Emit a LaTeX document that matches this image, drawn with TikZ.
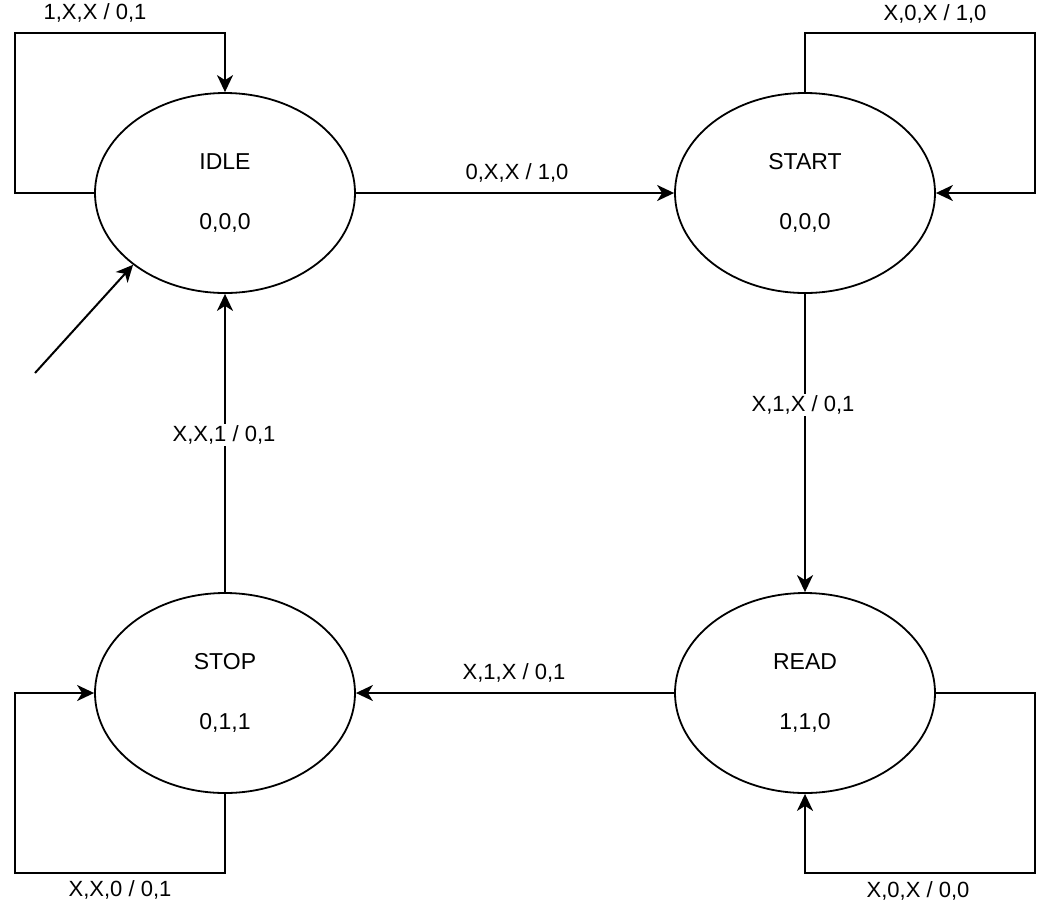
\documentclass[tikz,border=0pt]{standalone}
\usepackage{fontspec}
\setmainfont{Liberation Sans}
\usetikzlibrary{arrows.meta,shapes.geometric}

\tikzset{
  state/.style={ellipse, draw, line width=1.8pt, minimum width=260pt, minimum height=200pt,
    inner sep=0pt, align=center, font=\fontsize{23}{60}\selectfont},
  trans/.style={line width=2pt, -{Stealth[length=17pt,width=16pt,inset=5pt]}},
  lbl/.style={font=\fontsize{22}{26}\selectfont, inner sep=2pt},
}

\begin{document}
\begin{tikzpicture}[x=1pt,y=-1pt]
\useasboundingbox (0,0) rectangle (1052,906);

% states
\node [state] (idle) at (225,193) {IDLE\\0,0,0};
\node [state] (start) at (805,193) {START\\0,0,0};
\node [state] (stop) at (225,693) {STOP\\0,1,1};
\node [state] (read) at (805,693) {READ\\1,1,0};

\coordinate (init) at (35,373);

% transitions
\draw [trans] (init) -- (idle.218);
\draw [trans] (idle) -- (start);
\draw [trans] (start) -- (read);
\draw [trans] (read) -- (stop);
\draw [trans] (stop) -- (idle);

% self loops
\draw [trans] (idle.west) -| (15,33) -| (idle.north);
\draw [trans] (start.north) |- (1035,33) |- (start.east);
\draw [trans] (read.east) -| (1035,873) -| (read.south);
\draw [trans] (stop.south) |- (15,873) |- (stop.west);

% labels
\node [lbl] (lidle) at (95,13) {1,X,X / 0,1};
\node [lbl] (lstart) at (935,14) {X,0,X / 1,0};
\node [lbl] (lgo) at (517,173) {0,X,X / 1,0};
\node [lbl, fill=white] (lread) at (803,405) {X,1,X / 0,1};
\node [lbl] (lstop) at (514,673) {X,1,X / 0,1};
\node [lbl, fill=white] (lback) at (224,435) {X,X,1 / 0,1};
\node [lbl] (lwait) at (120,890) {X,X,0 / 0,1};
\node [lbl] (lhold) at (918,891) {X,0,X / 0,0};

\end{tikzpicture}
\end{document}
